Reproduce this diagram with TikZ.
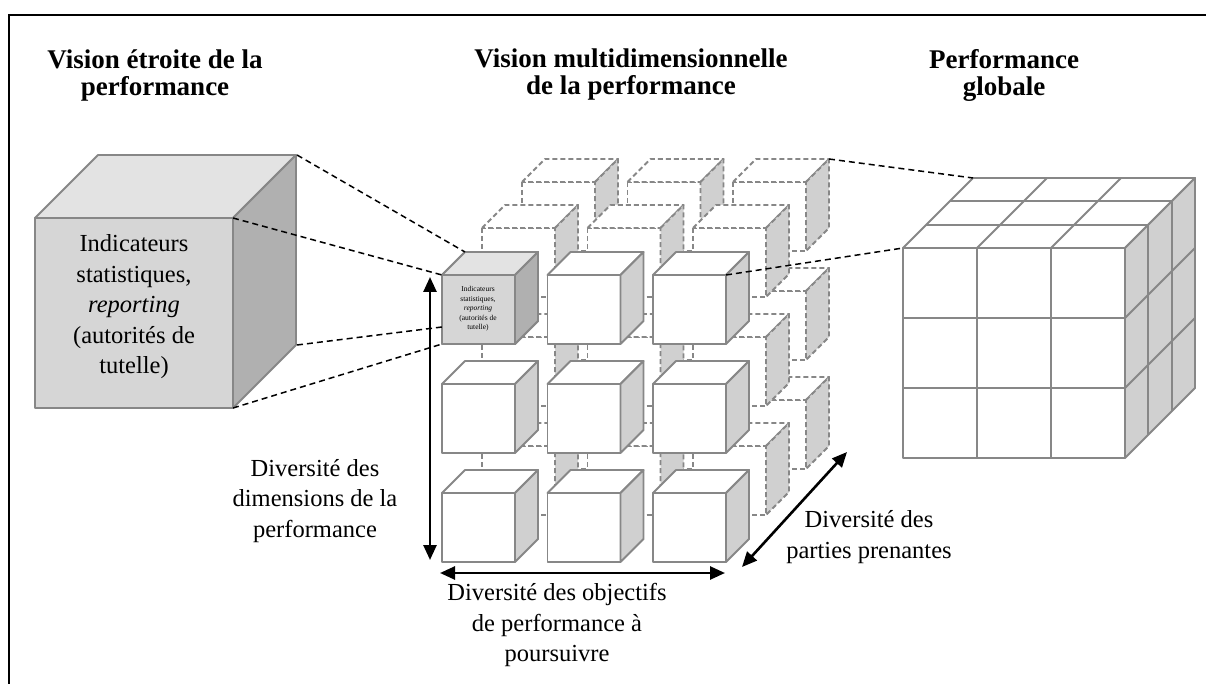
\documentclass[tikz,border=0pt]{standalone}
\usepackage{fontspec}
\setmainfont{Liberation Serif}
\usetikzlibrary{arrows.meta}

\definecolor{trait}{HTML}{878787}
\definecolor{faceA}{HTML}{D6D6D6}
\definecolor{dessusA}{HTML}{E3E3E3}
\definecolor{coteA}{HTML}{B0B0B0}
\definecolor{coteB}{HTML}{D0D0D0}

% #1,#2 coin haut gauche de la face avant, #3 largeur, #4 hauteur, #5 profondeur
\newcommand{\drawcube}[8]{%
  \filldraw[cubeline,fill=#6] (#1,#2) rectangle ++(#3,#4);
  \filldraw[cubeline,fill=#7] (#1,#2) -- ++(#5,-#5) -- ++(#3,0) -- ++(-#5,#5) -- cycle;
  \filldraw[cubeline,fill=#8] (#1+#3,#2) -- ++(#5,-#5) -- ++(0,#4) -- ++(-#5,#5) -- cycle;
}

\begin{document}
\begin{tikzpicture}[x=1pt,y=-1pt,
  cubeline/.style={draw=trait,line width=1.9pt,line join=round},
  liaison/.style={line width=1.5pt,dash pattern=on 6pt off 4pt},
  fleche/.style={{Triangle[length=15pt,width=13pt]}-{Triangle[length=15pt,width=13pt]},line width=2.6pt},
  titre/.style={align=center,font=\bfseries\fontsize{27}{27}\selectfont},
  texte/.style={align=center,font=\fontsize{24.5}{30.5}\selectfont}]
\useasboundingbox (0,0) rectangle (1206,684);
\draw[line width=1.8pt] (9,15) rectangle (1230,710);

\node[titre] (titreA) at (155,75) {Vision étroite de la\\performance};
\node[titre] (titreB) at (631,75) {Vision multidimensionnelle\\de la performance};
\node[titre] (titreC) at (1004,75) {Performance\\globale};

% cube de gauche
\drawcube{35}{218}{198}{190}{63}{faceA}{dessusA}{coteA}
\node[texte] (indic) at (134,307) {Indicateurs\\statistiques,\\\textit{reporting}\\(autorités de\\tutelle)};

% cubes en pointilles
\begin{scope}[cubeline/.append style={dash pattern=on 5pt off 3pt}]
\foreach \dx/\dy in {80/93,40/47}{
  \foreach \i in {0,1,2}{
    \foreach \j in {0,1,2}{
      \drawcube{442+105.5*\i+\dx}{275+109*\j-\dy}{73}{69}{23}{white}{white}{coteB}
    }
  }
}
\end{scope}

% cubes avant
\foreach \i in {0,1,2}{
  \foreach \j in {0,1,2}{
    \drawcube{442+105.5*\i}{275+109*\j}{73}{69}{23}{white}{white}{coteB}
  }
}
\drawcube{442}{275}{73}{69}{23}{faceA}{dessusA}{coteA}
\node[align=center,font=\fontsize{7.5}{9.5}\selectfont] (petit) at (478,309) {Indicateurs\\statistiques,\\\textit{reporting}\\(autorités de\\tutelle)};

% cube de droite
\drawcube{903}{248}{222}{210}{70}{white}{white}{coteB}
\foreach \k in {1,2} {
  \draw[cubeline] (903+74*\k,248) -- ++(0,210);
  \draw[cubeline] (903,248+70*\k) -- ++(222,0);
  \draw[cubeline] (903+74*\k,248) -- ++(70,-70);
  \draw[cubeline] (903+70*\k/3,248-70*\k/3) -- ++(222,0);
  \draw[cubeline] (1125+70*\k/3,248-70*\k/3) -- ++(0,210);
  \draw[cubeline] (1125,248+70*\k) -- ++(70,-70);
}

\coordinate (gA) at (297,155);
\coordinate (gB) at (233,218);
\coordinate (gC) at (297,345);
\coordinate (gD) at (233,408);
\coordinate (pA) at (465,252);
\coordinate (pB) at (442,275);
\coordinate (pC) at (442,327);
\coordinate (pD) at (442,344);
\coordinate (mA) at (829,159);
\coordinate (mB) at (726,275);
\coordinate (dA) at (973,178);
\coordinate (dB) at (903,248);
\draw[liaison] (gA) -- (pA);
\draw[liaison] (gB) -- (pB);
\draw[liaison] (gC) -- (pC);
\draw[liaison] (gD) -- (pD);
\draw[liaison] (mA) -- (dA);
\draw[liaison] (mB) -- (dB);

% axes
\coordinate (vh) at (430,277);
\coordinate (vb) at (430,560);
\coordinate (hg) at (440,573);
\coordinate (hd) at (725,573);
\coordinate (db) at (742,567);
\coordinate (dh) at (847,452);
\draw[fleche] (vh) -- (vb);
\draw[fleche] (hg) -- (hd);
\draw[fleche] (db) -- (dh);

\node[texte] (dimens) at (315,501) {Diversité des\\dimensions de la\\performance};
\node[texte] (object) at (557,625) {Diversité des objectifs\\de performance à\\poursuivre};
\node[texte] (partie) at (869,537) {Diversité des\\parties prenantes};
\end{tikzpicture}
\end{document}
